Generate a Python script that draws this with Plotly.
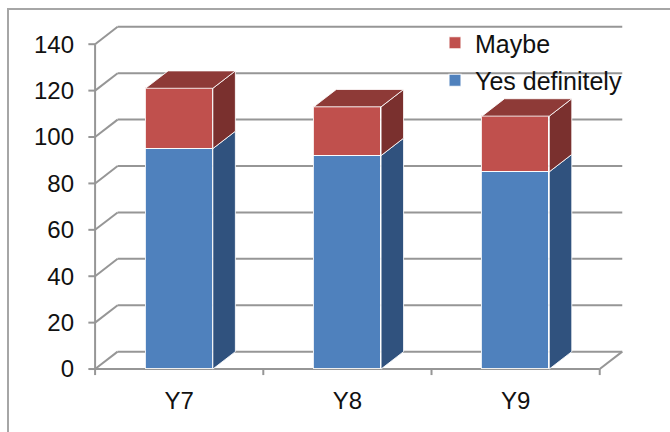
import plotly.graph_objects as go

# ---- data -------------------------------------------------------------
categories = ["Y7", "Y8", "Y9"]
yes_definitely = [95, 92, 85]
maybe = [26, 21, 24]
y_ticks = [0, 20, 40, 60, 80, 100, 120, 140]

# ---- styling ----------------------------------------------------------
FIG_W, FIG_H = 670, 432
M_L, M_R, M_T, M_B = 85, 40, 21, 56
X_RANGE = [-0.56, 2.68]
Y_RANGE = [-3, 150]
BAR_W = 0.4
DX, DY = 0.134, 7.5          # depth offset of the 3-D box, in axis units
TICK_DX, TICK_DY = 0.04, 2.6  # tick mark lengths, in axis units

GRID = "#969696"
EDGE = "rgba(255,255,255,0.85)"
FONT = "Liberation Sans, Arial, sans-serif"
TEXT = "#111111"
FS_AXIS = 24
FS_LEGEND = 25

BLUE_FRONT, BLUE_SIDE = "#4F81BD", "#30527E"
RED_FRONT, RED_SIDE, RED_TOP = "#C0504D", "#7A302E", "#8E3A37"

PW = FIG_W - M_L - M_R
PH = FIG_H - M_T - M_B


def paper_x(px):
    return (px - M_L) / PW


def paper_y(py):
    return (FIG_H - M_B - py) / PH


x_pos = list(range(len(categories)))
left_edge = x_pos[0] - 0.5
right_edge = x_pos[-1] + 0.5

fig = go.Figure()

# front faces of the stacked columns
fig.add_trace(go.Bar(
    x=x_pos, y=yes_definitely, name="Yes definitely", width=BAR_W,
    marker=dict(color=BLUE_FRONT, line=dict(color=EDGE, width=1.2)),
    legendgroup="yes", legendrank=2, hoverinfo="y",
))
fig.add_trace(go.Bar(
    x=x_pos, y=maybe, name="Maybe", width=BAR_W,
    marker=dict(color=RED_FRONT, line=dict(color=EDGE, width=1.2)),
    legendgroup="maybe", legendrank=1, hoverinfo="y",
))

shapes = []


def line(x0, y0, x1, y1, layer="below", width=2, color=GRID):
    shapes.append(dict(type="line", xref="x", yref="y", x0=x0, y0=y0,
                       x1=x1, y1=y1, layer=layer,
                       line=dict(color=color, width=width)))


def poly(points, fill, layer="above"):
    d = "M " + " L ".join(f"{x},{y}" for x, y in points) + " Z"
    shapes.append(dict(type="path", xref="x", yref="y", path=d, layer=layer,
                       fillcolor=fill, line=dict(color=EDGE, width=1)))


# back wall gridlines with their diagonal run on the side wall
for v in y_ticks:
    line(left_edge, v, left_edge + DX, v + DY)
    line(left_edge + DX, v + DY, right_edge + DX, v + DY)
    line(left_edge - TICK_DX, v, left_edge, v)

# floor: front edge, right diagonal and category boundary ticks
line(left_edge, 0, right_edge, 0)
line(right_edge, 0, right_edge + DX, DY)
for b in [left_edge + k for k in range(len(categories) + 1)]:
    line(b, 0, b, -TICK_DY)

# vertical value axis
line(left_edge, 0, left_edge, y_ticks[-1])

# side and top faces of every column
for xi, yes_v, may_v in zip(x_pos, yes_definitely, maybe):
    xr = xi + BAR_W / 2
    xl = xi - BAR_W / 2
    total = yes_v + may_v
    poly([(xr, 0), (xr + DX, DY), (xr + DX, yes_v + DY), (xr, yes_v)], BLUE_SIDE)
    poly([(xr, yes_v), (xr + DX, yes_v + DY), (xr + DX, total + DY), (xr, total)], RED_SIDE)
    poly([(xl, total), (xl + DX, total + DY), (xr + DX, total + DY), (xr, total)], RED_TOP)

# outer chart border
shapes.append(dict(type="rect", xref="paper", yref="paper",
                   x0=paper_x(8), y0=paper_y(FIG_H + 10),
                   x1=paper_x(FIG_W + 10), y1=paper_y(9),
                   line=dict(color="#A6A6A6", width=2), fillcolor="rgba(0,0,0,0)",
                   layer="below"))

fig.update_layout(
    width=FIG_W, height=FIG_H,
    margin=dict(l=M_L, r=M_R, t=M_T, b=M_B, pad=0),
    paper_bgcolor="white", plot_bgcolor="white",
    barmode="stack", bargap=0,
    font=dict(family=FONT, size=FS_AXIS, color=TEXT),
    showlegend=True,
    legend=dict(
        x=paper_x(435), y=paper_y(20), xanchor="left", yanchor="top",
        bgcolor="rgba(0,0,0,0)", traceorder="grouped",
        tracegroupgap=2, itemwidth=30,
        font=dict(family=FONT, size=FS_LEGEND, color=TEXT),
    ),
    xaxis=dict(
        range=X_RANGE, tickvals=x_pos, ticktext=categories,
        showgrid=False, zeroline=False, showline=False, ticks="",
        ticklabelstandoff=8, automargin=False, fixedrange=True,
        tickfont=dict(family=FONT, size=FS_AXIS, color=TEXT),
    ),
    yaxis=dict(
        range=Y_RANGE, tickvals=y_ticks,
        showgrid=False, zeroline=False, showline=False, ticks="",
        ticklabelstandoff=10, automargin=False, fixedrange=True,
        tickfont=dict(family=FONT, size=FS_AXIS, color=TEXT),
    ),
    shapes=shapes,
)

fig.write_html("out.html")
